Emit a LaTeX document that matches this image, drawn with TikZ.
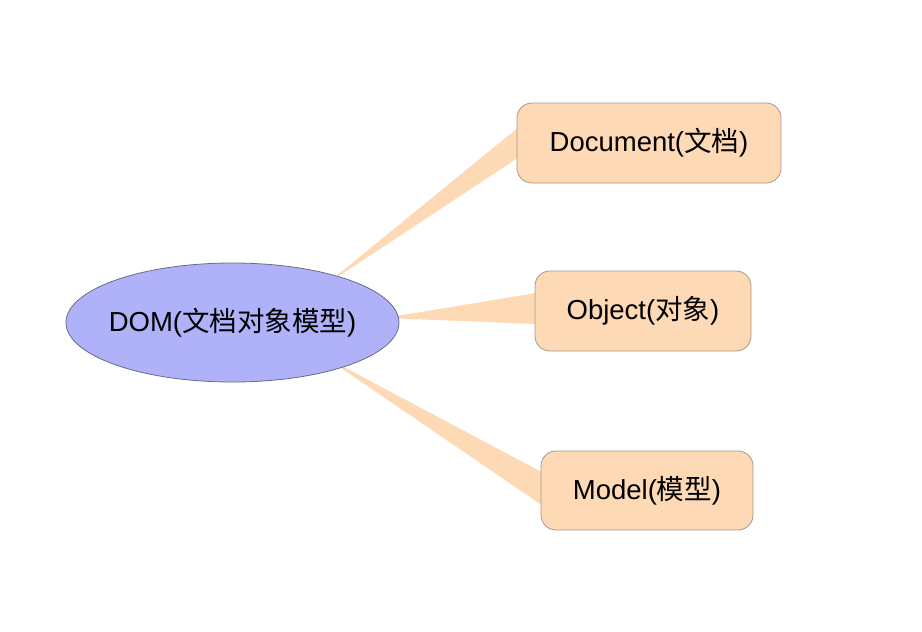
\documentclass[tikz,border=0pt]{standalone}
\usepackage{fontspec}
\setmainfont{Liberation Sans}
\newfontfamily\cjk{Noto Sans CJK SC}
\usetikzlibrary{shapes.geometric,backgrounds,calc}
\definecolor{peach}{HTML}{FDD9B5}
\definecolor{peachline}{HTML}{A8968A}
\definecolor{lav}{HTML}{B0B2F9}
\definecolor{lavline}{HTML}{6A6A88}
\tikzset{
  txt/.style={font=\fontsize{27.5}{33}\selectfont, text=black, inner sep=0pt},
  topic/.style={txt, draw=peachline, fill=peach, line width=0.8pt, rounded corners=15pt, minimum height=80pt},
  central/.style={txt, ellipse, draw=lavline, fill=lav, line width=0.8pt, inner xsep=-20pt, minimum width=333pt, minimum height=119pt},
  wedge/.style={fill=peach, draw=none}
}
\begin{document}
\begin{tikzpicture}[x=1pt,y=-1pt]
\useasboundingbox (0,0) rectangle (922,632);
\node[central] (dom) at (232.5,322.5) {DOM({\cjk 文档对象模型})};
\node[topic, minimum width=264pt] (doc) at (649,143) {Document({\cjk 文档})};
\node[topic, minimum width=216pt] (obj) at (643,311) {Object({\cjk 对象})};
\node[topic, minimum width=212pt, minimum height=79pt] (mod) at (647,490.5) {Model({\cjk 模型})};
\coordinate (t1) at (324,286);
\coordinate (t2) at (385,318);
\coordinate (t3) at (325,357);
\begin{scope}[on background layer]
\fill[wedge] (t1) -- ($(doc.west)+(1,-15)$) -- ($(doc.west)+(1,15)$) -- cycle;
\fill[wedge] (t2) -- ($(obj.west)+(1,-18)$) -- ($(obj.west)+(1,13)$) -- cycle;
\fill[wedge] (t3) -- ($(mod.west)+(1,-18.5)$) -- ($(mod.west)+(1,14.5)$) -- cycle;
\end{scope}
\end{tikzpicture}
\end{document}
